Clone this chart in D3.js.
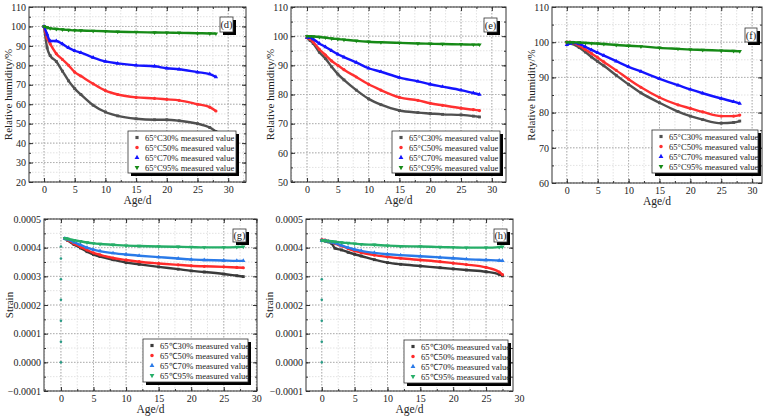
<!DOCTYPE html>
<html>
<head>
<meta charset="utf-8">
<script src="https://cdn.jsdelivr.net/npm/d3@7"></script>
<style>
  body { margin: 0; background: #fff; }
  svg { display: block; font-family: "Liberation Serif", "Times New Roman", serif; }
</style>
</head>
<body>
<div id="chart"></div>
<script>
// ---- data ----
const rhAges = [0, 0.5, 1, 2, 3, 4, 5, 6, 8, 10, 12, 15, 18, 20, 22, 25, 27, 28];

const rhD30 = [100, 89, 85, 82, 77, 72, 68, 65, 59.5, 56, 54, 52.5, 52, 52, 51.5, 50, 48, 46];
const rhD50 = [100, 94, 91, 86, 83, 80, 76.5, 74.5, 70.5, 67, 65, 63.5, 63, 62.5, 62, 60, 58.5, 56.5];
const rhD70 = [100, 96, 92.5, 92.5, 91, 89, 87.5, 86.5, 84, 82, 81, 80, 79.5, 78.5, 78, 76.5, 75.5, 74];
const rhD95 = [100, 99.5, 99, 98.7, 98.4, 98.2, 98, 97.9, 97.7, 97.5, 97.3, 97.1, 96.9, 96.8, 96.7, 96.5, 96.4, 96.3];

const rhE30 = [99.5, 98.5, 97.5, 94.5, 92.3, 89.5, 87, 85, 81.5, 78.5, 76.5, 74.5, 73.8, 73.5, 73.2, 73, 72.6, 72.3];
const rhE50 = [99.5, 99, 98, 95.5, 93.5, 91.5, 90, 88.5, 86, 83.5, 81.5, 79, 78, 77, 76.3, 75.3, 74.8, 74.5];
const rhE70 = [99.5, 99.5, 99, 97.5, 96.3, 95, 93.8, 92.8, 91, 89, 87.8, 85.8, 84.5, 83.5, 82.7, 81.5, 80.5, 80];
const rhE95 = [100, 100, 99.9, 99.7, 99.5, 99.2, 99, 98.8, 98.4, 98.1, 97.9, 97.7, 97.5, 97.4, 97.3, 97.2, 97.1, 97.1];

const rhF30 = [100, 100, 99.5, 98.5, 97.2, 95.8, 94.5, 93.3, 90.6, 88, 85.6, 82.8, 80.3, 79, 78, 77, 77.2, 77.6];
const rhF50 = [100, 100, 99.8, 99, 97.9, 96.8, 95.6, 94.4, 92, 89.5, 87.2, 84.3, 82.2, 81.2, 80.2, 79, 79, 79.3];
const rhF70 = [99.3, 99.6, 99.8, 99.5, 98.7, 97.8, 97, 96.2, 94.6, 93, 91.7, 89.6, 87.8, 86.6, 85.5, 84, 83.1, 82.6];
const rhF95 = [100, 100, 100, 99.9, 99.8, 99.7, 99.6, 99.5, 99.2, 99, 98.8, 98.4, 98.1, 97.9, 97.8, 97.6, 97.5, 97.4];

const strainAgesG = [0.6, 1, 2, 3, 4, 5, 6, 8, 10, 12, 15, 18, 20, 22, 25, 27, 28];
const strainG30 = [4.32, 4.26, 4.11, 3.99, 3.86, 3.76, 3.69, 3.58, 3.48, 3.42, 3.33, 3.25, 3.19, 3.15, 3.08, 3.02, 2.99];
const strainG50 = [4.32, 4.27, 4.14, 4.03, 3.92, 3.82, 3.75, 3.64, 3.57, 3.51, 3.45, 3.40, 3.37, 3.35, 3.33, 3.31, 3.30];
const strainG70 = [4.32, 4.29, 4.19, 4.10, 4.00, 3.93, 3.88, 3.81, 3.76, 3.72, 3.67, 3.62, 3.59, 3.57, 3.55, 3.54, 3.54];
const strainG95 = [4.33, 4.31, 4.26, 4.22, 4.18, 4.15, 4.13, 4.10, 4.07, 4.06, 4.04, 4.03, 4.02, 4.01, 4.01, 4.02, 4.03];
const strainRiseG = [0, 0.72, 1.45, 2.18, 2.90, 3.62, 4.04];

const strainAgesH = [0, 0.5, 1, 1.5, 2, 3, 4, 5, 6, 8, 10, 12, 15, 18, 20, 22, 25, 27, 27.5];
const strainH30 = [4.25, 4.23, 4.20, 4.15, 3.98, 3.92, 3.84, 3.77, 3.71, 3.58, 3.48, 3.42, 3.36, 3.30, 3.26, 3.22, 3.16, 3.07, 3.02];
const strainH50 = [4.28, 4.26, 4.23, 4.19, 4.14, 4.06, 3.97, 3.89, 3.83, 3.74, 3.68, 3.63, 3.57, 3.51, 3.46, 3.41, 3.31, 3.15, 3.06];
const strainH70 = [4.25, 4.24, 4.22, 4.19, 4.16, 4.08, 4.00, 3.94, 3.89, 3.82, 3.77, 3.74, 3.70, 3.66, 3.63, 3.60, 3.57, 3.55, 3.54];
const strainH95 = [4.25, 4.24, 4.23, 4.22, 4.21, 4.18, 4.16, 4.14, 4.12, 4.10, 4.07, 4.05, 4.04, 4.02, 4.01, 4.00, 4.00, 4.02, 4.03];
const strainRiseH = [0, 0.72, 1.45, 2.18, 2.90];
const strainUnit = 1e-4;

const xTicks = [0, 5, 10, 15, 20, 25, 30];
const rhLegend = ["65°C30% measured value", "65°C50% measured value", "65°C70% measured value", "65°C95% measured value"];
const strainLegend = ["65℃30% measured value", "65℃50% measured value", "65℃70% measured value", "65℃95% measured value"];

// ---- drawing ----
const rhColors = ["#505050", "#ff3030", "#1414ff", "#168a16"];
const strainColors = ["#3a3a3a", "#ff2a2a", "#2a7ae8", "#26ae68"];
const shapes = [d3.symbolSquare, d3.symbolCircle, d3.symbolTriangle, "down"];

const svg = d3.select("#chart").append("svg")
  .attr("width", 772).attr("height", 420);

function marker(sel, shape, size) {
  const t = shape === "down" ? d3.symbolTriangle : shape;
  sel.attr("d", d3.symbol().type(t).size(size))
  if (shape === "down") sel.attr("transform", function () { return d3.select(this).attr("transform") + " rotate(180)"; });
}

function drawPanel(p) {
  const x = d3.scaleLinear().domain(p.xd).range([p.l, p.r]);
  const y = d3.scaleLinear().domain(p.yd).range([p.b, p.t]);
  const g = svg.append("g");

  const xMinor = d3.range(-2.5, p.xd[1] + 0.01, 2.5).filter(v => v > p.xd[0] && v < p.xd[1]);
  const yMinor = d3.range(p.yd[0], p.yd[1] + p.ystep / 4, p.ystep / 2);

  // grid, minor first then major
  g.selectAll(null).data(xMinor).enter().append("line")
    .attr("x1", d => x(d)).attr("x2", d => x(d)).attr("y1", p.t).attr("y2", p.b)
    .attr("stroke", "#e2e2e2").attr("stroke-dasharray", "1.5,1.5");
  g.selectAll(null).data(yMinor).enter().append("line")
    .attr("x1", p.l).attr("x2", p.r).attr("y1", d => y(d)).attr("y2", d => y(d))
    .attr("stroke", "#e2e2e2").attr("stroke-dasharray", "1.5,1.5");
  g.selectAll(null).data(xTicks.filter(v => v < p.xd[1])).enter().append("line")
    .attr("x1", d => x(d)).attr("x2", d => x(d)).attr("y1", p.t).attr("y2", p.b)
    .attr("stroke", "#b0b0b0").attr("stroke-dasharray", "1.5,1.5");
  g.selectAll(null).data(p.yTicks).enter().append("line")
    .attr("x1", p.l).attr("x2", p.r).attr("y1", d => y(d)).attr("y2", d => y(d))
    .attr("stroke", "#b0b0b0").attr("stroke-dasharray", "1.5,1.5");

  // series
  const line = d3.line().x(d => x(d[0])).y(d => y(d[1])).curve(d3.curveMonotoneX);
  p.series.forEach((vals, i) => {
    const pts = p.ages.map((a, j) => [a, vals[j] * p.unit]);
    g.append("path").datum(pts).attr("d", line)
      .attr("fill", "none").attr("stroke", p.colors[i]).attr("stroke-width", 2.4);
    g.selectAll(null).data(pts).enter().append("path")
      .attr("transform", d => "translate(" + x(d[0]) + "," + y(d[1]) + ")")
      .attr("fill", p.colors[i])
      .each(function () { marker(d3.select(this), shapes[i], 8); });
  });
  if (p.rise) {
    g.selectAll(null).data(p.rise).enter().append("circle")
      .attr("cx", x(0)).attr("cy", d => y(d * p.unit)).attr("r", 1.3)
      .attr("fill", "#2a9c86");
  }

  // axes, ticks pointing inward
  const ax = g.append("g").attr("font-size", 11);
  const bottom = ax.append("g").attr("transform", "translate(0," + p.b + ")")
    .call(d3.axisBottom(x).tickValues(xTicks).tickSize(-4).tickPadding(4));
  bottom.selectAll(".tick line").filter(d => d > p.xd[1]).remove();
  ax.append("g").attr("transform", "translate(0," + p.b + ")")
    .call(d3.axisBottom(x).tickValues(xMinor).tickSize(-2).tickFormat(""));
  ax.append("g").attr("transform", "translate(0," + p.t + ")")
    .call(d3.axisTop(x).tickValues(xTicks.filter(v => v < p.xd[1])).tickSize(-4).tickFormat(""));
  ax.append("g").attr("transform", "translate(0," + p.t + ")")
    .call(d3.axisTop(x).tickValues(xMinor).tickSize(-2).tickFormat(""));
  ax.append("g").attr("transform", "translate(" + p.l + ",0)")
    .call(d3.axisLeft(y).tickValues(p.yTicks).tickSize(-4).tickPadding(3).tickFormat(p.fmt));
  ax.append("g").attr("transform", "translate(" + p.l + ",0)")
    .call(d3.axisLeft(y).tickValues(yMinor).tickSize(-2).tickFormat(""));
  ax.append("g").attr("transform", "translate(" + p.r + ",0)")
    .call(d3.axisRight(y).tickValues(p.yTicks).tickSize(-4).tickFormat(""));
  ax.append("g").attr("transform", "translate(" + p.r + ",0)")
    .call(d3.axisRight(y).tickValues(yMinor).tickSize(-2).tickFormat(""));
  ax.selectAll(".domain").remove();
  ax.selectAll("text").attr("fill", "#222").attr("font-family", "Liberation Serif, serif");
  ax.selectAll("line").attr("stroke", "#333");

  g.append("rect").attr("x", p.l).attr("y", p.t).attr("width", p.r - p.l).attr("height", p.b - p.t)
    .attr("fill", "none").attr("stroke", "#333").attr("stroke-width", 1);

  // axis titles
  g.append("text").attr("x", (p.l + p.r) / 2).attr("y", p.b + 22)
    .attr("text-anchor", "middle").attr("font-size", 11.5).attr("fill", "#222").text("Age/d");
  g.append("text").attr("transform", "translate(" + p.yTitleX + "," + (p.t + p.b) / 2 + ") rotate(-90)")
    .attr("text-anchor", "middle").attr("dy", "0.35em").attr("font-size", 11).attr("fill", "#222")
    .text(p.yTitle);

  // legend with drop shadow
  const L = p.legend;
  g.append("rect").attr("x", L.x + 3).attr("y", L.y + 3).attr("width", L.w).attr("height", L.h).attr("fill", "#000");
  g.append("rect").attr("x", L.x).attr("y", L.y).attr("width", L.w).attr("height", L.h)
    .attr("fill", "#fff").attr("stroke", "#333").attr("stroke-width", 0.8);
  p.labels.forEach((lab, i) => {
    const cy = L.y + 6.5 + i * 10;
    g.append("path").attr("transform", "translate(" + (L.x + 9) + "," + cy + ")")
      .attr("fill", p.colors[i]).each(function () { marker(d3.select(this), shapes[i], 10); });
    g.append("text").attr("x", L.x + 17).attr("y", cy).attr("dy", "0.35em")
      .attr("font-size", 8.6).attr("fill", "#222").text(lab);
  });

  // panel tag
  const T = p.tag;
  g.append("rect").attr("x", T.x + 3).attr("y", T.y + 3).attr("width", T.w).attr("height", T.h).attr("fill", "#000");
  g.append("rect").attr("x", T.x).attr("y", T.y).attr("width", T.w).attr("height", T.h)
    .attr("fill", "#fff").attr("stroke", "#333").attr("stroke-width", 0.8);
  g.append("text").attr("x", T.x + T.w / 2).attr("y", T.y + T.h / 2).attr("dy", "0.35em")
    .attr("text-anchor", "middle").attr("font-size", 10.5).attr("fill", "#222").text(p.name);
}

const rhFmt = d => d;
const strainFmt = d3.format(".4f");
const strainTicks = [-0.0001, 0, 0.0001, 0.0002, 0.0003, 0.0004, 0.0005];

const panels = [
  { name: "(d)", l: 29, r: 246, t: 7, b: 182, xd: [-2.45, 32.9], yd: [20, 110], ystep: 10,
    yTicks: d3.range(20, 111, 10), fmt: rhFmt, unit: 1, ages: rhAges, series: [rhD30, rhD50, rhD70, rhD95],
    colors: rhColors, labels: rhLegend, yTitle: "Relative humidity/%", yTitleX: 8,
    legend: { x: 128, y: 131, w: 108, h: 42 }, tag: { x: 220, y: 17, w: 13, h: 15 } },
  { name: "(e)", l: 291, r: 506, t: 7, b: 182, xd: [-2.6, 32.3], yd: [50, 110], ystep: 10,
    yTicks: d3.range(50, 111, 10), fmt: rhFmt, unit: 1, ages: rhAges, series: [rhE30, rhE50, rhE70, rhE95],
    colors: rhColors, labels: rhLegend, yTitle: "Relative humidity/%", yTitleX: 270,
    legend: { x: 392, y: 131, w: 108, h: 42 }, tag: { x: 484, y: 18, w: 13, h: 14 } },
  { name: "(f)", l: 552, r: 762, t: 7, b: 183, xd: [-2.4, 31.6], yd: [60, 110], ystep: 10,
    yTicks: d3.range(60, 111, 10), fmt: rhFmt, unit: 1, ages: rhAges, series: [rhF30, rhF50, rhF70, rhF95],
    colors: rhColors, labels: rhLegend, yTitle: "Relative humidity/%", yTitleX: 531,
    legend: { x: 652, y: 130, w: 106, h: 43 }, tag: { x: 745, y: 28, w: 12, h: 14 } },
  { name: "(g)", l: 44, r: 257, t: 219, b: 391, xd: [-2.6, 30.1], yd: [-0.0001, 0.0005], ystep: 0.0001,
    yTicks: strainTicks, fmt: strainFmt, unit: strainUnit, ages: strainAgesG,
    series: [strainG30, strainG50, strainG70, strainG95], rise: strainRiseG,
    colors: strainColors, labels: strainLegend, yTitle: "Strain", yTitleX: 9,
    legend: { x: 143, y: 339, w: 105, h: 43 }, tag: { x: 233, y: 229, w: 13, h: 13 } },
  { name: "(h)", l: 306, r: 513, t: 219, b: 391, xd: [-2.4, 29.1], yd: [-0.0001, 0.0005], ystep: 0.0001,
    yTicks: strainTicks, fmt: strainFmt, unit: strainUnit, ages: strainAgesH,
    series: [strainH30, strainH50, strainH70, strainH95], rise: strainRiseH,
    colors: strainColors, labels: strainLegend, yTitle: "Strain", yTitleX: 269,
    legend: { x: 404, y: 340, w: 104, h: 43 }, tag: { x: 494, y: 229, w: 13, h: 13 } }
];

panels.forEach(drawPanel);
</script>
</body>
</html>
